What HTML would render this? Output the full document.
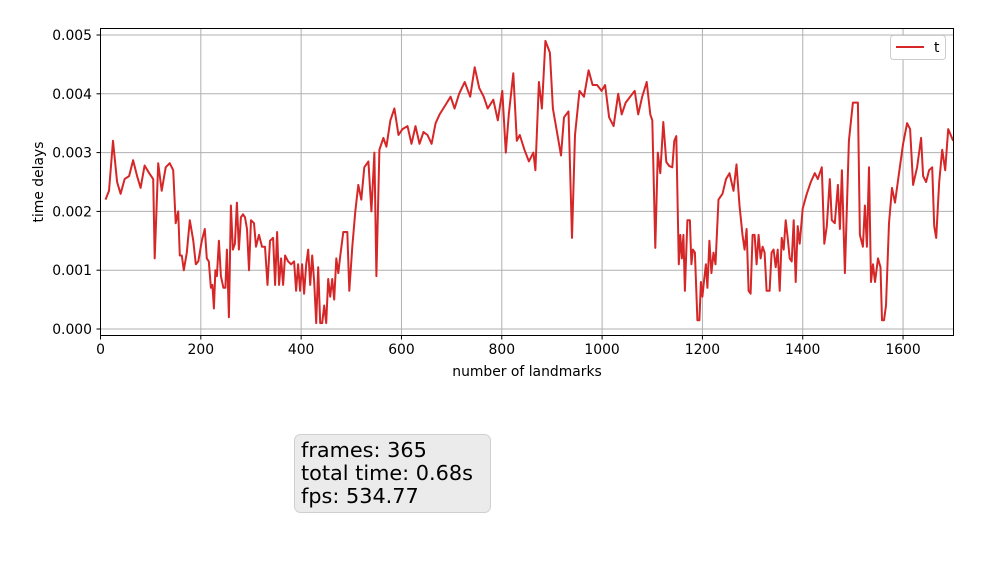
<!DOCTYPE html>
<html><head><meta charset="utf-8"><style>
body{margin:0;background:#fff;width:1002px;height:559px;overflow:hidden;font-family:"DejaVu Sans","Liberation Sans",sans-serif}
svg text{font-family:"DejaVu Sans","Liberation Sans",sans-serif}
</style></head><body>
<svg id="chart" width="1002" height="559" xmlns="http://www.w3.org/2000/svg">
<g id="grid"></g>
<g id="axes"></g>
<path id="line" fill="none" stroke="#d62728" stroke-width="2" stroke-linejoin="round"/>
<rect x="100.5" y="28.5" width="853" height="307" fill="none" stroke="#000" stroke-width="1"/>
<text x="527" y="376" font-size="13.9" text-anchor="middle">number of landmarks</text>
<text transform="translate(43,182) rotate(-90)" font-size="13.9" text-anchor="middle">time delays</text>
<g>
<rect x="890.5" y="35.5" width="55" height="24" rx="3" fill="#fff" stroke="#ccc"/>
<line x1="896" y1="47" x2="924" y2="47" stroke="#d62728" stroke-width="2"/>
<text x="934" y="52" font-size="13.9">t</text>
</g>
<g>
<rect x="294.5" y="434.5" width="196" height="78" rx="6" fill="#ebebeb" stroke="#cfcfcf"/>
<text x="301" y="457" font-size="20.8">frames: 365</text>
<text x="301" y="480" font-size="20.8">total time: 0.68s</text>
<text x="301" y="503" font-size="20.8">fps: 534.77</text>
</g>
</svg>
<script>
const xs=[10,17,25,33,40,48,57,65,73,80,88,97,105,108,115,122,130,138,145,150,155,158,162,166,172,178,185,190,195,202,208,212,216,220,223,226,229,232,236,240,245,249,252,256,260,264,268,272,276,280,284,288,292,296,300,306,310,316,322,328,333,338,344,348,352,356,360,364,368,374,380,386,390,394,398,402,406,410,414,418,422,426,430,434,438,442,446,450,454,458,462,466,470,474,478,484,492,496,502,508,514,520,526,534,540,546,550,556,564,570,578,586,594,602,612,620,628,636,644,652,660,668,676,
687,698,706,715,726,737,746,755,764,772,783,792,801,808,814,823,830,836,845,854,863,867,874,880,887,896,902,911,918,924,933,940,946,955,964,973,981,990,999,1006,1014,1023,1032,1039,1047,1056,1065,1072,1080,1089,1096,1100,
1106,1111,1116,1122,1128,1134,1140,1144,1148,1153,1156,1159,1162,1165,1170,1175,1178,1181,1185,1190,1194,1197,1200,1203,1207,1210,1214,1218,1222,1226,1232,1240,1247,1254,1262,1268,1274,1280,1284,1288,1292,1296,1300,1304,1308,1312,1316,1320,1324,1328,1334,1338,1342,1346,1350,1354,1358,1362,1366,1370,1374,1378,1382,1386,1390,1394,1400,1408,1416,1424,1430,1438,1443,1448,1454,1458,1464,1470,1474,1478,1484,1492,1500,1510,1514,1520,1524,1528,1532,1536,1540,1544,1550,1555,1558,1562,1566,1572,1578,1584,1592,1600,1608,1614,1620,1628,1636,1640,1646,1652,1658,1662,1666,1672,1678,1684,1690,1700];
const ys=[2.2,2.35,3.2,2.5,2.3,2.55,2.6,2.87,2.6,2.4,2.78,2.65,2.55,1.2,2.82,2.35,2.75,2.82,2.7,1.8,2.0,1.25,1.25,1.0,1.3,1.85,1.5,1.1,1.15,1.5,1.7,1.2,1.15,0.7,0.75,0.35,1.0,0.9,1.5,0.9,0.7,0.7,1.35,0.2,2.1,1.35,1.45,2.15,1.35,1.9,1.95,1.9,1.7,1.0,1.85,1.8,1.4,1.6,1.4,1.4,0.75,1.5,1.55,0.75,1.65,0.75,1.2,0.75,1.25,1.15,1.1,1.15,0.65,1.1,0.65,1.1,0.6,1.1,1.35,0.75,1.25,0.8,0.1,1.05,0.1,0.1,0.4,0.1,0.85,0.55,0.85,0.5,1.2,0.95,1.25,1.65,1.65,0.65,1.4,2.0,2.45,2.2,2.75,2.85,2.0,3.0,0.9,3.05,3.25,3.1,3.55,3.75,3.3,3.4,3.45,3.15,3.45,3.15,3.35,3.3,3.15,3.5,3.65,
3.8,3.95,3.75,4.0,4.2,3.95,4.45,4.1,3.95,3.75,3.9,3.55,4.05,3.0,3.65,4.35,3.2,3.3,3.05,2.85,3.0,2.7,4.2,3.75,4.9,4.7,3.75,3.3,2.95,3.6,3.7,1.55,3.3,4.05,3.95,4.4,4.15,4.15,4.05,4.15,3.6,3.45,4.0,3.65,3.85,3.95,4.05,3.65,3.95,4.2,3.65,3.55,
1.38,3.0,2.65,3.52,2.84,2.77,2.75,3.2,3.28,1.1,1.6,1.2,1.6,0.65,1.85,1.85,1.1,1.35,1.3,0.15,0.15,0.8,0.55,0.8,1.1,0.7,1.5,0.95,1.3,1.1,2.2,2.3,2.55,2.65,2.35,2.8,2.1,1.6,1.35,1.7,0.65,0.6,1.6,1.6,1.1,1.6,1.2,1.4,1.3,0.65,0.65,1.3,1.35,1.05,1.35,0.65,1.55,1.35,1.85,1.55,1.2,1.15,1.85,0.8,1.75,1.45,2.05,2.3,2.5,2.65,2.55,2.75,1.45,1.75,2.55,1.85,1.8,2.45,1.7,2.7,0.95,3.2,3.85,3.85,1.6,1.4,2.1,1.4,2.75,0.8,1.1,0.8,1.2,1.05,0.15,0.15,0.4,1.8,2.4,2.15,2.65,3.15,3.5,3.4,2.45,2.75,3.25,2.6,2.5,2.7,2.75,1.75,1.55,2.5,3.05,2.7,3.4,3.2];
const xTicks=[0,200,400,600,800,1000,1200,1400,1600];
const yTicks=[0,1,2,3,4,5];
const yTickLabels=["0.000","0.001","0.002","0.003","0.004","0.005"];
const NS="http://www.w3.org/2000/svg";
function X(v){return 100.5+v*0.5016;}
function Y(v){return 329-v*58.8;}
const grid=document.getElementById('grid'),axes=document.getElementById('axes');
function mk(tag,attrs,parent){const e=document.createElementNS(NS,tag);for(const k in attrs)e.setAttribute(k,attrs[k]);parent.appendChild(e);return e;}
xTicks.forEach(t=>{
  const g=mk('line',{x1:X(t),x2:X(t),y1:28.5,y2:335.5,stroke:'#b0b0b0','stroke-width':1},grid);
  
  
  const tk=mk('line',{x1:X(t),x2:X(t),y1:335.5,y2:339.5,stroke:'#000'},axes);
  
  
  const tx=mk('text',{x:X(t),y:354,'font-size':13.9,'text-anchor':'middle'},axes);
  tx.textContent=t;
  
  
});
yTicks.forEach((t,i)=>{
  const g=mk('line',{x1:100.5,x2:953.5,y1:Y(t),y2:Y(t),stroke:'#b0b0b0','stroke-width':1},grid);
  
  
  const tk=mk('line',{x1:96.5,x2:100.5,y1:Y(t),y2:Y(t),stroke:'#000'},axes);
  
  
  const tx=mk('text',{x:92,y:Y(t)+5,'font-size':13.9,'text-anchor':'end'},axes);
  tx.textContent=yTickLabels[i];
  
  
});
const n=Math.min(xs.length,ys.length);
document.getElementById('line').setAttribute('d',xs.slice(0,n).map((x,i)=>(i?'L':'M')+X(x).toFixed(1)+','+Y(ys[i]).toFixed(1)).join(''));
</script>
</body></html>
